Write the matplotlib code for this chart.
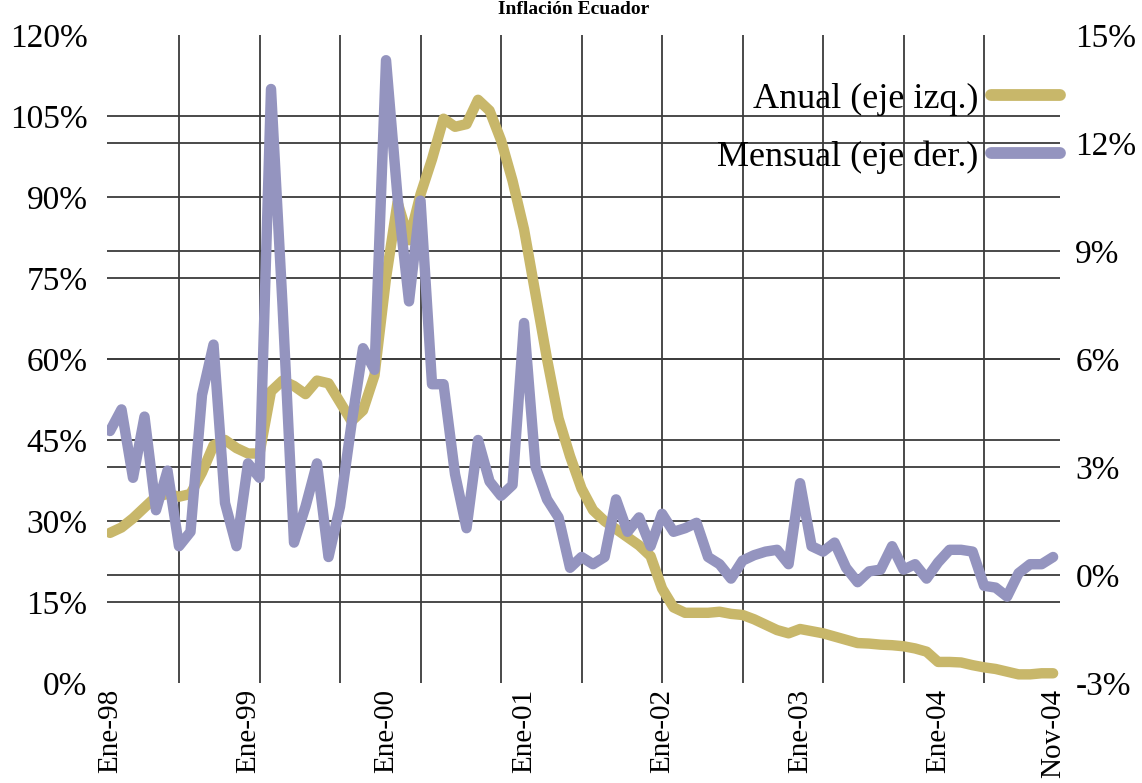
import numpy as np
import matplotlib.pyplot as plt
from matplotlib.lines import Line2D

plt.rcParams['font.family'] = ['Liberation Serif', 'DejaVu Serif']

# monthly observations, Ene-98 .. Nov-04
anual = [27.8, 28.8, 30.5, 32.5, 34.5, 35.0, 34.5, 35.0, 39.0, 44.0, 45.0, 43.5,
         42.5, 42.5, 54.0, 56.0, 55.0, 53.5, 56.0, 55.5, 52.0, 48.5, 50.5, 57.0,
         75.0, 89.0, 82.0, 90.5, 97.0, 104.5, 103.0, 103.5, 108.0, 106.0, 100.5, 93.0,
         84.0, 72.0, 60.0, 49.0, 42.0, 36.0, 32.0, 30.0, 28.5, 27.0, 25.5, 23.5,
         17.5, 14.0, 13.0, 13.0, 13.0, 13.2, 12.8, 12.6, 11.8, 10.8, 9.8, 9.2,
         10.0, 9.6, 9.2, 8.6, 8.0, 7.4, 7.3, 7.1, 7.0, 6.8, 6.4, 5.8,
         3.9, 3.9, 3.8, 3.3, 2.9, 2.6, 2.1, 1.6, 1.6, 1.8, 1.8]
mensual = [4.0, 4.6, 2.7, 4.4, 1.8, 2.9, 0.8, 1.2, 5.0, 6.4, 2.0, 0.8,
           3.1, 2.7, 13.5, 7.5, 0.9, 1.9, 3.1, 0.5, 1.9, 4.2, 6.3, 5.7,
           14.3, 10.5, 7.6, 10.4, 5.3, 5.3, 2.8, 1.3, 3.75, 2.6, 2.2, 2.5,
           7.0, 3.0, 2.1, 1.6, 0.2, 0.5, 0.3, 0.5, 2.1, 1.2, 1.6, 0.8,
           1.7, 1.2, 1.3, 1.45, 0.5, 0.3, -0.1, 0.4, 0.55, 0.65, 0.7, 0.3,
           2.55, 0.8, 0.65, 0.9, 0.2, -0.2, 0.1, 0.15, 0.8, 0.15, 0.3, -0.1,
           0.35, 0.7, 0.7, 0.65, -0.3, -0.35, -0.6, 0.05, 0.3, 0.3, 0.5]
x_ticks = [0, 12, 24, 36, 48, 60, 72, 82]
x_labels = ['Ene-98', 'Ene-99', 'Ene-00', 'Ene-01', 'Ene-02', 'Ene-03', 'Ene-04', 'Nov-04']
left_ticks = list(range(0, 121, 15))
right_ticks = list(range(-3, 16, 3))
series_names = ['Anual (eje izq.)', 'Mensual (eje der.)']

yellow = '#C8B76A'
purple = '#9494BF'
grid_c = '#3c3c3c'

months = np.arange(len(anual))

fig = plt.figure(figsize=(11.42, 7.83), dpi=100)
ax = fig.add_axes([107 / 1142, 100 / 783, 953 / 1142, 648 / 783])
ax2 = ax.twinx()

ax.set_xlim(-0.26, 82.6)
ax.set_ylim(left_ticks[0], left_ticks[-1])
ax2.set_ylim(right_ticks[0], right_ticks[-1])

# grid: lines for both y scales, drawn under the series
for v in left_ticks[1:-1]:
    ax.axhline(v, color=grid_c, lw=1.3, zorder=0)
for v in right_ticks[1:-1]:
    frac = (v - right_ticks[0]) / (right_ticks[-1] - right_ticks[0])
    ax.axhline(left_ticks[-1] * frac, color=grid_c, lw=1.3, zorder=0)
for xv in np.arange(6, 77, 7):
    ax.axvline(xv, color=grid_c, lw=1.3, zorder=0)

line_kw = dict(lw=7.5, solid_capstyle='round', solid_joinstyle='round')
ax.plot(months, anual, color=yellow, zorder=2, **line_kw)
ax2.plot(months, mensual, color=purple, zorder=2, **line_kw)

for a in (ax, ax2):
    for s in a.spines.values():
        s.set_visible(False)

ax.set_yticks(left_ticks, [f'{v}%' for v in left_ticks])
ax2.set_yticks(right_ticks, [f'{v}%' for v in right_ticks])
ax.set_xticks(x_ticks, x_labels, rotation=90)
ax.tick_params(axis='y', length=0, pad=14, labelsize=24)
ax2.tick_params(axis='y', length=0, pad=11, labelsize=24)
ax.tick_params(axis='x', length=0, pad=4, labelsize=21)

handles = [Line2D([], [], color=yellow, lw=8.5, solid_capstyle='round'),
           Line2D([], [], color=purple, lw=8.5, solid_capstyle='round')]
ax2.legend(handles, series_names, loc='upper right', bbox_to_anchor=(1.0, 0.927),
           frameon=False, markerfirst=False, fontsize=26, handlelength=1.9,
           handletextpad=0.35, labelspacing=0.68, borderpad=0, borderaxespad=0)

fig.text(574 / 1142, 1 - 1 / 783, 'Inflación Ecuador', ha='center', va='top',
         fontsize=14, fontweight='bold')

fig.savefig('out.png', dpi=100)
